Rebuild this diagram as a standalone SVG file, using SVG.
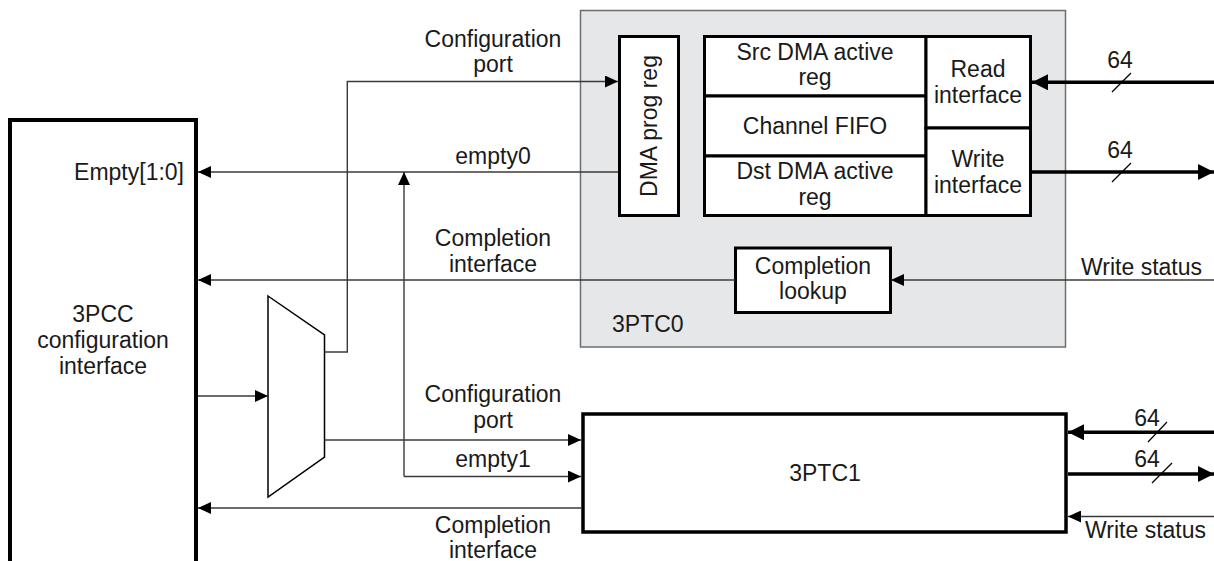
<svg xmlns="http://www.w3.org/2000/svg" width="1214" height="561" viewBox="0 0 1214 561">
<defs>
<style>
text{font-family:"Liberation Sans",Arial,sans-serif;font-size:23px;fill:#1a1a1a}
.c{text-anchor:middle}
.e{text-anchor:end}
.box{fill:#fff;stroke:#000;stroke-width:3}
.big{fill:#fff;stroke:#000;stroke-width:4}
.thin{fill:none;stroke:#3a3a3a;stroke-width:1.4}
.thick{fill:none;stroke:#000;stroke-width:3.5}
.slash{stroke:#000;stroke-width:1.2}
</style>
<marker id="a" markerUnits="userSpaceOnUse" markerWidth="13" markerHeight="12" refX="13" refY="6" orient="auto"><path d="M0,0 L13,6 L0,12 z" fill="#000"/></marker>
<marker id="A" markerUnits="userSpaceOnUse" markerWidth="16" markerHeight="16" refX="16" refY="8" orient="auto"><path d="M0,0 L16,8 L0,16 z" fill="#000"/></marker>
</defs>

<g id="n3PTC0">
<rect x="580.5" y="10.5" width="485" height="336.5" fill="#e6e7e8" stroke="#6d6e71" stroke-width="1.5"/>
<text x="612" y="332">3PTC0</text>
</g>

<g id="dmaProgReg">
<rect class="box" x="619.5" y="36.5" width="59" height="179"/>
<text class="c" transform="translate(657,126) rotate(-90)">DMA prog reg</text>
</g>

<g id="srcDma">
<rect class="box" x="704.5" y="36.5" width="221.5" height="59.5"/>
<text class="c" x="815" y="60">Src DMA active</text>
<text class="c" x="815" y="85">reg</text>
</g>
<g id="channelFifo">
<rect class="box" x="704.5" y="96" width="221.5" height="60"/>
<text class="c" x="815" y="134">Channel FIFO</text>
</g>
<g id="dstDma">
<rect class="box" x="704.5" y="156" width="221.5" height="59.5"/>
<text class="c" x="815" y="179">Dst DMA active</text>
<text class="c" x="815" y="205">reg</text>
</g>
<g id="readIf">
<rect class="box" x="926" y="36.5" width="104.5" height="91.5"/>
<text class="c" x="978" y="77">Read</text>
<text class="c" x="978" y="103">interface</text>
</g>
<g id="writeIf">
<rect class="box" x="926" y="128" width="104.5" height="87.5"/>
<text class="c" x="978" y="167">Write</text>
<text class="c" x="978" y="193">interface</text>
</g>
<g id="complLookup">
<rect class="box" x="735.5" y="248" width="155" height="64.5"/>
<text class="c" x="813" y="274">Completion</text>
<text class="c" x="813" y="299">lookup</text>
</g>

<g id="n3PCC">
<rect class="big" x="10" y="120" width="186" height="450"/>
<text class="e" x="184" y="180">Empty[1:0]</text>
<text class="c" x="103" y="322">3PCC</text>
<text class="c" x="103" y="348">configuration</text>
<text class="c" x="103" y="374">interface</text>
</g>

<g id="mux">
<polygon points="268,296 324.5,335 324.5,457 268,497" fill="#fff" stroke="#000" stroke-width="1.5"/>
</g>

<g id="n3PTC1">
<rect x="583" y="414" width="483" height="118" fill="#fff" stroke="#000" stroke-width="3.5"/>
<text class="c" x="825" y="481">3PTC1</text>
</g>

<g id="connectors">
<path class="thin" d="M324.5,352 H347.3 V81.5 H618" marker-end="url(#a)"/>
<path class="thin" d="M618,172 H198" marker-end="url(#a)"/>
<path class="thin" d="M404,476.5 V172" marker-end="url(#a)"/>
<path class="thin" d="M404,476.5 H581" marker-end="url(#a)"/>
<path class="thin" d="M735,280 H198" marker-end="url(#a)"/>
<path class="thin" d="M1214,280 H891" marker-end="url(#a)"/>
<path class="thin" d="M198,396 H268" marker-end="url(#a)"/>
<path class="thin" d="M324.5,440 H581" marker-end="url(#a)"/>
<path class="thin" d="M582,508 H198" marker-end="url(#a)"/>
<path class="thin" d="M1214,516.5 H1068" marker-end="url(#a)"/>
<path class="thick" d="M1214,82.3 H1032" marker-end="url(#A)"/>
<path class="thick" d="M1032,172 H1214" marker-end="url(#A)"/>
<path class="thick" d="M1214,432.3 H1068" marker-end="url(#A)"/>
<path class="thick" d="M1068,474 H1214" marker-end="url(#A)"/>
<line class="slash" x1="1112" y1="92" x2="1131" y2="73"/>
<line class="slash" x1="1112" y1="182" x2="1131" y2="163"/>
<line class="slash" x1="1148" y1="442" x2="1167" y2="422"/>
<line class="slash" x1="1152" y1="483" x2="1172" y2="463"/>
<text class="c" x="1120" y="68">64</text>
<text class="c" x="1120" y="158">64</text>
<text class="c" x="1147" y="426">64</text>
<text class="c" x="1147" y="467">64</text>
<text x="1081" y="275">Write status</text>
<text x="1085" y="538">Write status</text>
<text class="c" x="493" y="47">Configuration</text>
<text class="c" x="493" y="72">port</text>
<text class="c" x="493" y="164">empty0</text>
<text class="c" x="493" y="246">Completion</text>
<text class="c" x="493" y="272">interface</text>
<text class="c" x="493" y="402">Configuration</text>
<text class="c" x="493" y="428">port</text>
<text class="c" x="493" y="467">empty1</text>
<text class="c" x="493" y="533">Completion</text>
<text class="c" x="493" y="558">interface</text>
</g>
</svg>
